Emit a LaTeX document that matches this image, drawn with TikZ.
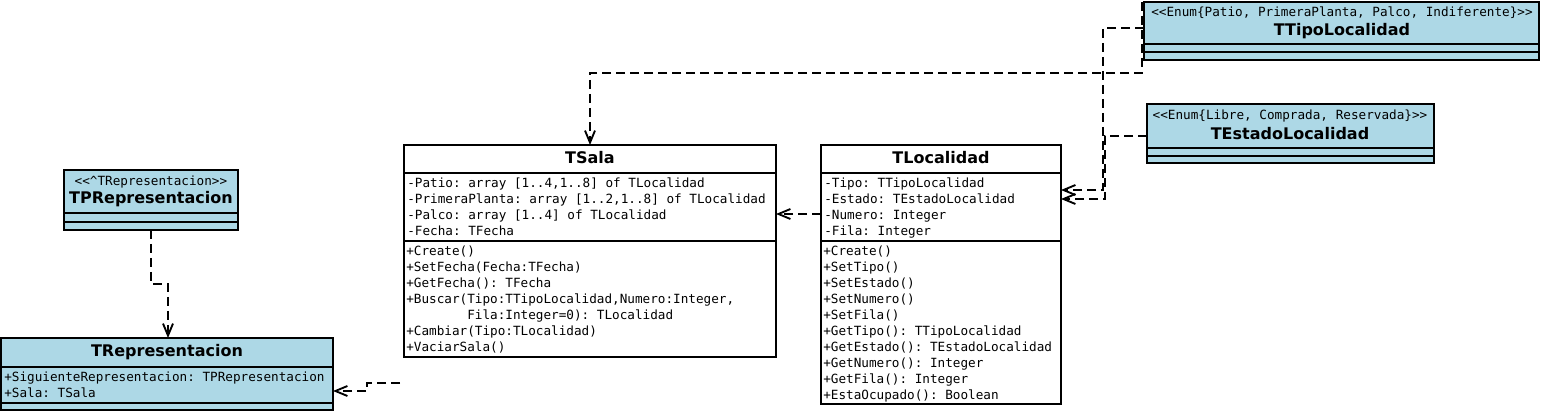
\documentclass[tikz,border=0pt]{standalone}
\usepackage{fontspec}
\setmainfont{DejaVu Sans}
\setsansfont{DejaVu Sans}
\setmonofont{DejaVu Sans Mono}
\usetikzlibrary{arrows.meta}
\definecolor{umlblue}{RGB}{173,216,230}
\begin{document}
\begin{tikzpicture}[x=0.75pt,y=-0.75pt,
  cls/.style={draw=black, line width=1.7pt, anchor=north west, inner sep=0pt, outer sep=0pt},
  sepline/.style={line width=1.7pt},
  dep/.style={dash pattern=on 6.5pt off 4pt, line width=1.5pt,
    -{Straight Barb[length=9pt,width=7.5pt,line width=1.4pt]}},
  ttl/.style={font=\fontsize{12}{14}\selectfont\sffamily\bfseries, inner sep=0pt},
  ster/.style={font=\fontsize{9.5}{12}\selectfont\ttfamily, inner sep=0pt},
  mem/.style={font=\fontsize{9.5}{12}\selectfont\ttfamily, inner sep=0pt, anchor=north west, align=left}]
\useasboundingbox[fill=white] (0,0) rectangle (1543,413);

% ---------- TPRepresentacion ----------
\node[cls, fill=umlblue, minimum width=174*0.75pt, minimum height=60*0.75pt] (tprep) at (64,170) {};
\draw[sepline] (tprep.west |- 0,213) -- (tprep.east |- 0,213);
\draw[sepline] (tprep.west |- 0,222) -- (tprep.east |- 0,222);
\node[ster] (tprepst) at (151,182) {<<\textasciicircum TRepresentacion>>};
\node[ttl] (tprepname) at (151,199) {TPRepresentacion};

% ---------- TRepresentacion ----------
\node[cls, fill=umlblue, minimum width=332*0.75pt, minimum height=72*0.75pt] (trep) at (1,338) {};
\draw[sepline] (trep.west |- 0,367) -- (trep.east |- 0,367);
\draw[sepline] (trep.west |- 0,403) -- (trep.east |- 0,403);
\node[ttl] (trepname) at (167,352) {TRepresentacion};
\node[mem] (trepattr) at (4,370) {\strut+SiguienteRepresentacion: TPRepresentacion\\+Sala: TSala};

% ---------- TSala ----------
\node[cls, fill=white, minimum width=372*0.75pt, minimum height=212*0.75pt] (tsala) at (404,145) {};
\draw[sepline] (tsala.west |- 0,173) -- (tsala.east |- 0,173);
\draw[sepline] (tsala.west |- 0,241) -- (tsala.east |- 0,241);
\node[ttl] (tsalaname) at (590,158) {TSala};
\node[mem] (tsalaattr) at (407,176) {\strut-Patio: array [1..4,1..8] of TLocalidad\\
-PrimeraPlanta: array [1..2,1..8] of TLocalidad\\
-Palco: array [1..4] of TLocalidad\\
-Fecha: TFecha};
\node[mem] (tsalaops) at (406,244) {\strut+Create()\\
+SetFecha(Fecha:TFecha)\\
+GetFecha(): TFecha\\
+Buscar(Tipo:TTipoLocalidad,Numero:Integer,\\
\phantom{+Buscar(}Fila:Integer=0): TLocalidad\\
+Cambiar(Tipo:TLocalidad)\\
+VaciarSala()};

% ---------- TLocalidad ----------
\node[cls, fill=white, minimum width=240*0.75pt, minimum height=259*0.75pt] (tloc) at (821,145) {};
\draw[sepline] (tloc.west |- 0,173) -- (tloc.east |- 0,173);
\draw[sepline] (tloc.west |- 0,241) -- (tloc.east |- 0,241);
\node[ttl] (tlocname) at (941,158) {TLocalidad};
\node[mem] (tlocattr) at (824,176) {\strut-Tipo: TTipoLocalidad\\
-Estado: TEstadoLocalidad\\
-Numero: Integer\\
-Fila: Integer};
\node[mem] (tlocops) at (823,244) {\strut+Create()\\
+SetTipo()\\
+SetEstado()\\
+SetNumero()\\
+SetFila()\\
+GetTipo(): TTipoLocalidad\\
+GetEstado(): TEstadoLocalidad\\
+GetNumero(): Integer\\
+GetFila(): Integer\\
+EstaOcupado(): Boolean};

% ---------- TTipoLocalidad ----------
\node[cls, fill=umlblue, minimum width=395*0.75pt, minimum height=58*0.75pt] (ttipo) at (1144,2) {};
\draw[sepline] (ttipo.west |- 0,44) -- (ttipo.east |- 0,44);
\draw[sepline] (ttipo.west |- 0,52) -- (ttipo.east |- 0,52);
\node[ster] (ttipost) at (1342,13) {<<Enum\{Patio, PrimeraPlanta, Palco, Indiferente\}>>};
\node[ttl] (ttiponame) at (1342,31) {TTipoLocalidad};

% ---------- TEstadoLocalidad ----------
\node[cls, fill=umlblue, minimum width=287*0.75pt, minimum height=59*0.75pt] (testado) at (1147,104) {};
\draw[sepline] (testado.west |- 0,148) -- (testado.east |- 0,148);
\draw[sepline] (testado.west |- 0,156) -- (testado.east |- 0,156);
\node[ster] (testadost) at (1290,116) {<<Enum\{Libre, Comprada, Reservada\}>>};
\node[ttl] (testadoname) at (1290,134) {TEstadoLocalidad};

% ---------- connectors ----------
\draw[dep] (tprep.south) -- (151,284) -- (168,284) -- (trep.north -| 168,0);
\coordinate (salaref) at (400,383);
\draw[dep] (salaref) -- (367,383) -- (367,391) -- (trep.east |- 0,391);
\draw[dep] (tloc.west |- 0,214) -- (tsala.east |- 0,214);
\coordinate (tipotop) at (1142,2);
\draw[dep] (tipotop) -- (1142,73) -- (590,73) -- (tsala.north);
\draw[dep] (ttipo.west |- 0,28) -- (1103,28) -- (1103,190) -- (tloc.east |- 0,190);
\draw[dep] (testado.west |- 0,136) -- (1105,136) -- (1105,199) -- (tloc.east |- 0,199);
\end{tikzpicture}
\end{document}
